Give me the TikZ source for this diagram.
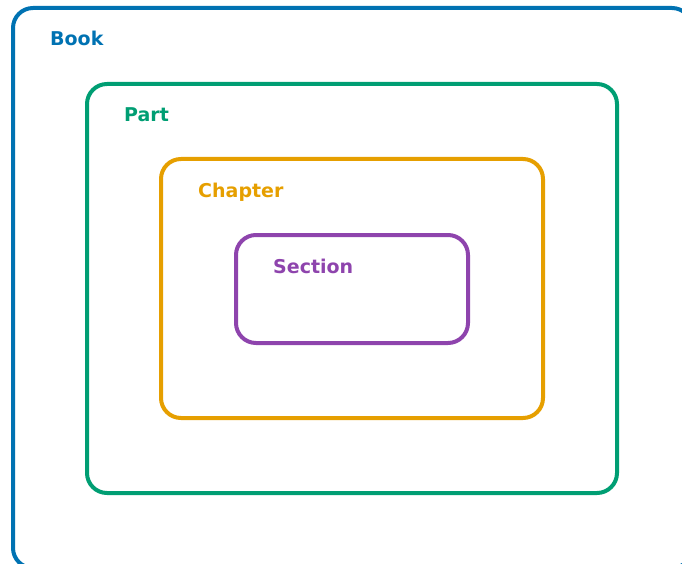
\documentclass[tikz,border=0pt]{standalone}
\usepackage{fontspec}
\setmainfont{DejaVu Sans}
\definecolor{bookblue}{HTML}{0072B2}
\definecolor{partgreen}{HTML}{009E73}
\definecolor{chapterorange}{HTML}{E69F00}
\definecolor{sectionpurple}{HTML}{8E44AD}
\begin{document}
\begin{tikzpicture}[x=1pt,y=-1pt,
  level/.style={draw=#1, line width=4pt, rounded corners=20pt, inner sep=0pt, outer sep=0pt},
  levellabel/.style={text=#1, font=\bfseries\fontsize{19}{21}\selectfont, anchor=base west, inner sep=0pt}]
  \useasboundingbox (0,0) rectangle (682,564);
  \clip (0,0) rectangle (682,564);
  % nested containers, each inset by 75pt
  \node[level=bookblue, minimum width=679pt, minimum height=560pt] (book) at (352.5,288) {};
  \node[level=partgreen, minimum width=530pt, minimum height=409pt] (part) at (352,288.5) {};
  \node[level=chapterorange, minimum width=382pt, minimum height=259pt] (chapter) at (352,288.5) {};
  \node[level=sectionpurple, minimum width=232pt, minimum height=108pt] (section) at (352,289) {};
  % level names, top left of each container
  \node[levellabel=bookblue] (booklbl) at ([xshift=37pt,yshift=-38pt]book.north west) {Book};
  \node[levellabel=partgreen] (partlbl) at ([xshift=37pt,yshift=-38pt]part.north west) {Part};
  \node[levellabel=chapterorange] (chapterlbl) at ([xshift=37pt,yshift=-38pt]chapter.north west) {Chapter};
  \node[levellabel=sectionpurple] (sectionlbl) at ([xshift=37pt,yshift=-38pt]section.north west) {Section};
\end{tikzpicture}
\end{document}
